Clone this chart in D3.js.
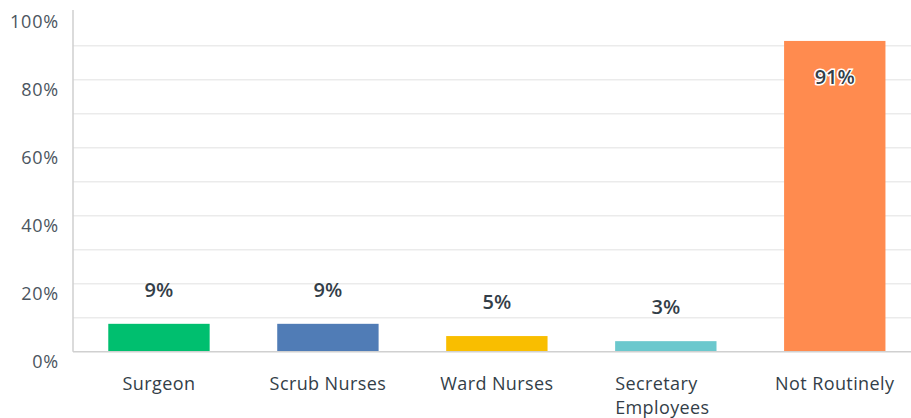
<!DOCTYPE html>
<html>
<head>
<meta charset="utf-8">
<script src="https://cdnjs.cloudflare.com/ajax/libs/d3/7.8.5/d3.min.js"></script>
<style>
  body { margin: 0; background: #fff; }
  svg text { font-family: "Open Sans", sans-serif; }
</style>
</head>
<body>
<div id="chart"></div>
<script>
var categories = [['Surgeon'], ['Scrub Nurses'], ['Ward Nurses'], ['Secretary', 'Employees'], ['Not Routinely']];
var values = [8.2, 8.2, 4.6, 3.1, 91.4];
var valueLabels = ['9%', '9%', '5%', '3%', '91%'];
var colors = ['#00bf6f', '#507cb6', '#f9be00', '#6bc8cd', '#ff8b4f'];
var yTicks = [0, 20, 40, 60, 80, 100];
var gridTicks = [10, 20, 30, 40, 50, 60, 70, 80, 90];

var width = 911, height = 418;
var margin = { top: 11.7, right: 0, bottom: 66.3, left: 73 };

var svg = d3.select('#chart')
  .append('svg')
  .attr('width', width)
  .attr('height', height);

//--- SCALES
var scaleX = d3.scaleBand()
  .domain(d3.range(categories.length))
  .range([margin.left, width - margin.right])
  .paddingInner(0.4)
  .paddingOuter(0.18)
  .align(0.58);

var scaleY = d3.scaleLinear()
  .domain([0, 100])
  .range([height - margin.bottom, margin.top]);

//--- GRID LINES
svg.append('g')
  .selectAll('line')
  .data(gridTicks)
  .enter()
  .append('line')
  .attr('x1', margin.left)
  .attr('x2', width)
  .attr('y1', function(d) { return scaleY(d); })
  .attr('y2', function(d) { return scaleY(d); })
  .style('stroke', '#ebebeb')
  .style('stroke-width', 1.5);

//--- Y AXIS
var axisY = svg.append('g')
  .attr('transform', 'translate(' + margin.left + ',0)')
  .call(
    d3.axisLeft(scaleY)
    .tickValues(yTicks)
    .tickSize(0)
    .tickPadding(14)
    .tickFormat(function(d) { return d + '%'; })
  );
axisY.select('.domain').remove();
axisY.selectAll('text')
  .attr('dy', '0.85em')
  .style('font-size', '18px')
  .style('letter-spacing', '0.8px')
  .style('fill', '#4b5560');

svg.append('line')
  .attr('x1', margin.left)
  .attr('x2', margin.left)
  .attr('y1', 10)
  .attr('y2', scaleY(0))
  .style('stroke', '#cfcfcf')
  .style('stroke-width', 1.5);

//--- BARS
svg.append('g')
  .selectAll('rect')
  .data(values)
  .enter()
  .append('rect')
  .attr('x', function(d, i) { return scaleX(i); })
  .attr('y', function(d) { return scaleY(d); })
  .attr('width', scaleX.bandwidth())
  .attr('height', function(d) { return scaleY(0) - scaleY(d); })
  .style('fill', function(d, i) { return colors[i]; });

//--- BASELINE
svg.append('line')
  .attr('x1', margin.left)
  .attr('x2', width)
  .attr('y1', scaleY(0))
  .attr('y2', scaleY(0))
  .style('stroke', '#d0d0d0')
  .style('stroke-width', 1.5);

//--- VALUE LABELS
svg.append('g')
  .selectAll('text')
  .data(values)
  .enter()
  .append('text')
  .attr('x', function(d, i) { return scaleX(i) + scaleX.bandwidth() / 2; })
  .attr('y', function(d) { return d > 50 ? scaleY(d) + 36 : scaleY(d) - 34; })
  .attr('dy', '0.35em')
  .attr('text-anchor', 'middle')
  .style('font-size', '20px')
  .style('font-weight', '600')
  .style('fill', '#333e48')
  .style('stroke', function(d) { return d > 50 ? '#fff' : 'none'; })
  .style('stroke-width', 3)
  .style('paint-order', 'stroke')
  .text(function(d, i) { return valueLabels[i]; });

//--- CATEGORY LABELS
var catLabels = svg.append('g')
  .selectAll('text')
  .data(categories)
  .enter()
  .append('text')
  .attr('text-anchor', function(d) { return d.length > 1 ? 'start' : 'middle'; })
  .style('font-size', '18px')
  .style('letter-spacing', '0.4px')
  .style('fill', '#333e48');

catLabels.selectAll('tspan')
  .data(function(d, i) { return d.map(function(t) { return { t: t, i: i, multi: d.length > 1 }; }); })
  .enter()
  .append('tspan')
  .attr('x', function(d) { return d.multi ? scaleX(d.i) : scaleX(d.i) + scaleX.bandwidth() / 2; })
  .attr('y', function(d, j) { return 383.5 + j * 24; })
  .attr('dy', '0.35em')
  .text(function(d) { return d.t; });
</script>
</body>
</html>
